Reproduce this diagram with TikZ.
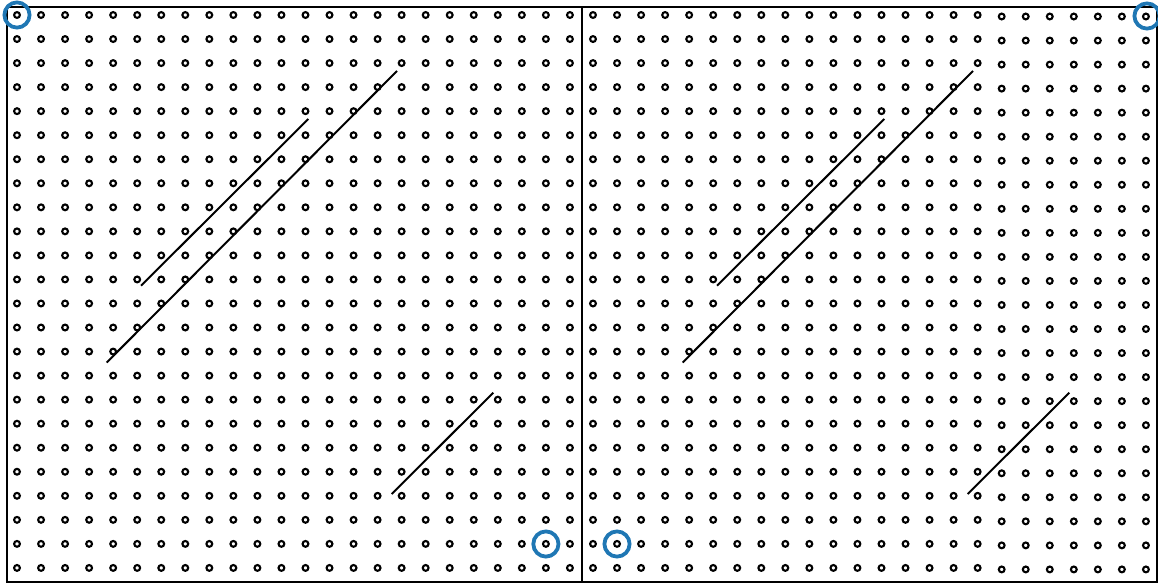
\documentclass[tikz,border=0pt]{standalone}
\definecolor{ringblue}{RGB}{31,119,180}
\tikzset{
  dotring/.style={draw=black, line width=2.1pt},
  bluering/.style={draw=ringblue, line width=3.8pt},
  slash/.style={draw=black, line width=2pt},
  frame/.style={draw=black, line width=2pt}
}
\begin{document}
\begin{tikzpicture}[x=1pt,y=-1pt]
\useasboundingbox (0,0) rectangle (1158,583);
% panel contents (left at offset 0, right at offset 576)
\foreach \off/\pan in {0/0,576/1}{
  \begin{scope}[xshift=\off pt]
    \foreach \i in {0,...,23}{
      \pgfmathsetmacro{\dy}{(\pan==1 && \i>16) ? 1.5 : 0}
      \foreach \j in {0,...,23}{
        \draw[dotring] ({17+24.04*\i},{15+24.04*\j+\dy}) circle (2.9);
      }
    }
    \coordinate (a1) at (141,285.7);
    \coordinate (a2) at (308.3,119);
    \coordinate (b1) at (106.7,362.5);
    \coordinate (b2) at (397,71);
    \coordinate (c1) at (391.7,494);
    \coordinate (c2) at (493.3,392.7);
    \draw[slash] (a1) -- (a2);
    \draw[slash] (b1) -- (b2);
    \draw[slash] (c1) -- (c2);
  \end{scope}
}
% frame
\draw[frame] (7,7) rectangle (1157,582);
\draw[frame] (582,7) -- (582,582);
% highlighted points
\draw[bluering] (17,15) circle (12.6);
\draw[bluering] (1147,16) circle (12.6);
\draw[bluering] (545.9,544) circle (12.6);
\draw[bluering] (617,544) circle (12.6);
\end{tikzpicture}
\end{document}
